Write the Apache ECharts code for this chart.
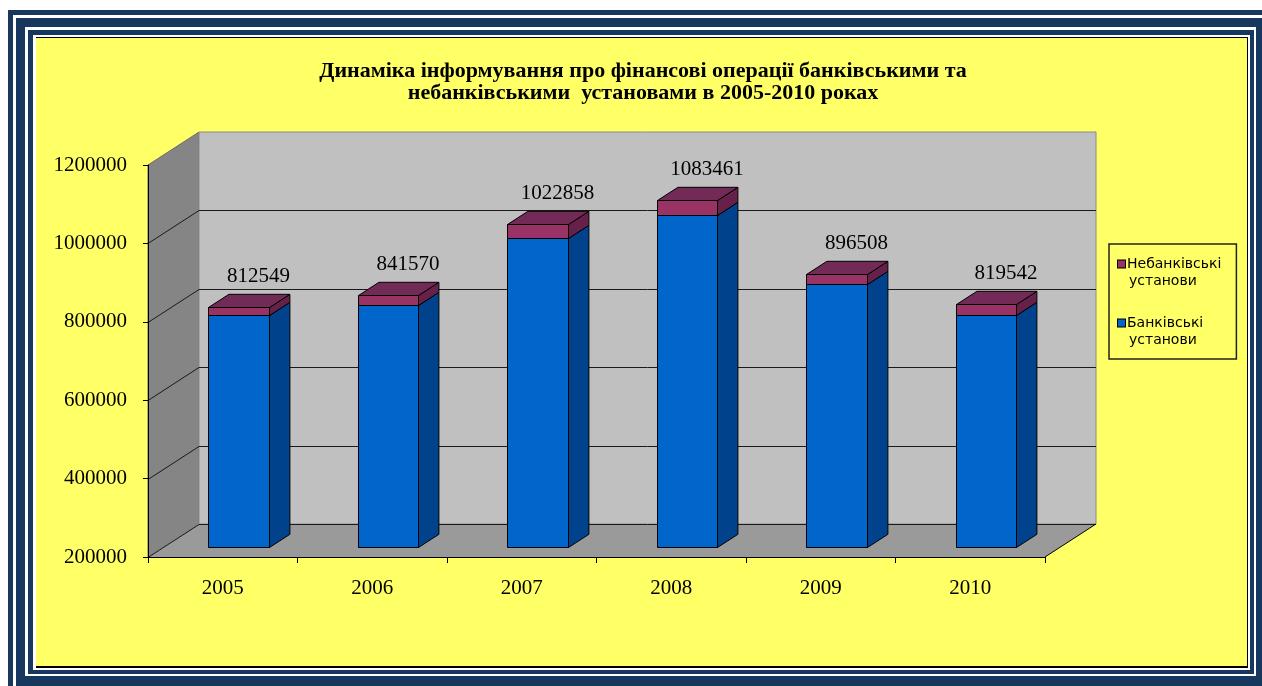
<!DOCTYPE html>
<html>
<head>
<meta charset="utf-8">
<script src="https://cdn.jsdelivr.net/npm/echarts@6/dist/echarts.min.js"></script>
<style>
  html, body { margin:0; padding:0; width:1262px; height:686px; overflow:hidden; background:#fff; }
  .f { position:absolute; box-sizing:border-box; }
  #chart { position:absolute; left:0; top:0; width:1262px; height:686px; }
</style>
</head>
<body>
<div class="f" style="left:8px; top:10px; width:1270px; height:690px; background:#17375E;"></div>
<div class="f" style="left:13px; top:15px; width:1260px; height:680px; background:#fff;"></div>
<div class="f" style="left:16px; top:18px; width:1252px; height:676px; background:#17375E;"></div>
<div class="f" style="left:25px; top:27px; width:1231px; height:649px; background:#fff;"></div>
<div class="f" style="left:28px; top:30px; width:1226px; height:644px; background:#17375E;"></div>
<div class="f" style="left:33px; top:35px; width:1217px; height:635px; background:#fff;"></div>
<div class="f" style="left:36px; top:37px; width:1212px; height:631px; background:#FFFF66; border-top:1px solid #000; border-right:1px solid #000; border-bottom:2px solid #000;"></div>
<div id="chart"></div>
<script>
// ---- data ----
const years = ['2005', '2006', '2007', '2008', '2009', '2010'];
const bankValues = [790300, 816900, 987100, 1047000, 869500, 791500];
const nonBankValues = [22249, 24670, 35758, 36461, 27008, 28042];
const yTicks = [200000, 400000, 600000, 800000, 1000000, 1200000];
const BANK = 'Банківські установи';
const NONBANK = 'Небанківські установи';
const TITLE = 'Динаміка інформування про фінансові операції банківськими та\nнебанківськими  установами в 2005-2010 роках';

// ---- 3D look parameters ----
const DX = 51, DY = -33;          // depth of the floor / walls
const FRONT = 0.31, BAR_D = 0.40; // bar front offset and bar depth (fractions of depth)
const BAR_W = 0.405;              // bar width as fraction of category band
const Y_MIN = yTicks[0], Y_MAX = yTicks[yTicks.length - 1];

const bankColors = { front: '#0066CC', side: '#00428C', top: '#00509F' };
const nonColors = { front: '#993366', side: '#66214A', top: '#722A56' };

function makeBox(isTop, col) {
  return function (params, api) {
    const i = api.value(0), lo = api.value(1), hi = api.value(2);
    const band = api.size([1, 0])[0];
    const c0 = api.coord([i, lo]), c1 = api.coord([i, hi]);
    const w = band * BAR_W;
    const ox = DX * FRONT, oy = DY * FRONT;
    const bx = DX * BAR_D, by = DY * BAR_D;
    const x0 = Math.round(c0[0] - w / 2 + ox) + 0.5, x1 = Math.round(c0[0] + w / 2 + ox) + 0.5;
    const yb = Math.round(c0[1] + oy) + 0.5, yt = Math.round(c1[1] + oy) + 0.5;
    const st = { stroke: '#000', lineWidth: 1, lineJoin: 'round' };
    const children = [
      { type: 'polygon', shape: { points: [[x0, yb], [x1, yb], [x1, yt], [x0, yt]] }, style: Object.assign({ fill: col.front }, st) },
      { type: 'polygon', shape: { points: [[x1, yb], [x1 + bx, yb + by], [x1 + bx, yt + by], [x1, yt]] }, style: Object.assign({ fill: col.side }, st) }
    ];
    if (isTop) {
      children.push({ type: 'polygon', shape: { points: [[x0, yt], [x1, yt], [x1 + bx, yt + by], [x0 + bx, yt + by]] }, style: Object.assign({ fill: col.top }, st) });
      const total = bankValues[params.dataIndex] + nonBankValues[params.dataIndex];
      children.push({ type: 'text', style: { text: String(total), x: (x0 + x1) / 2 + bx - 1, y: yt + by - 18, align: 'center', verticalAlign: 'middle', font: '21px "Liberation Serif"', fill: '#000' } });
    }
    return { type: 'group', children };
  };
}

function renderWalls(params, api) {
  const cs = params.coordSys;
  const gx = cs.x, gy = cs.y, gw = cs.width, gh = cs.height;
  const fy = gy + gh;
  const ch = [];
  ch.push({ type: 'polygon', shape: { points: [[gx, fy], [gx, gy], [gx + DX, gy + DY], [gx + DX, fy + DY]] }, style: { fill: '#858585', stroke: '#6a6a6a', lineWidth: 1 } });
  ch.push({ type: 'polygon', shape: { points: [[gx + DX, gy + DY], [gx + gw + DX, gy + DY], [gx + gw + DX, fy + DY], [gx + DX, fy + DY]] }, style: { fill: '#C0C0C0', stroke: '#8a8a8a', lineWidth: 1 } });
  ch.push({ type: 'polygon', shape: { points: [[gx, fy], [gx + gw, fy], [gx + gw + DX, fy + DY], [gx + DX, fy + DY]] }, style: { fill: '#9A9A9A' } });
  yTicks.forEach(function (v) {
    const y = Math.round(api.coord([0, v])[1]) + 0.5;
    if (v === Y_MAX) return;
    ch.push({ type: 'line', shape: { x1: gx, y1: y, x2: gx + DX, y2: y + DY }, style: { stroke: '#1a1a1a', lineWidth: 1 } });
    ch.push({ type: 'line', shape: { x1: gx + DX, y1: y + DY, x2: gx + gw + DX, y2: y + DY }, style: { stroke: '#1a1a1a', lineWidth: 1 } });
  });
  ch.push({ type: 'line', shape: { x1: gx + gw, y1: fy, x2: gx + gw + DX, y2: fy + DY }, style: { stroke: '#000', lineWidth: 1 } });
  return { type: 'group', children: ch };
}

const chart = echarts.init(document.getElementById('chart'), null, { renderer: 'canvas' });
chart.setOption({
  animation: false,
  backgroundColor: 'transparent',
  title: {
    text: TITLE,
    left: 643, top: 60, padding: 0, textAlign: 'center',
    textStyle: { fontFamily: 'Liberation Serif', fontWeight: 'bold', fontSize: 22, lineHeight: 22, color: '#000' }
  },
  legend: {
    data: [NONBANK, BANK],
    orient: 'vertical', left: 1109, top: 244,
    icon: 'none', itemWidth: 0, itemHeight: 10, itemGap: 28,
    padding: [13, 15, 12, 4],
    borderColor: '#222', borderWidth: 1.5, backgroundColor: 'transparent',
    selectedMode: false,
    formatter: function (name) {
      const parts = name.split(' ');
      const key = name === NONBANK ? 'sqN' : 'sqB';
      return '{' + key + '|}{t|' + parts[0] + '}\n{ind|}{t|' + parts[1] + '}';
    },
    textStyle: {
      rich: {
        sqN: { width: 7, height: 7, backgroundColor: '#993366', borderColor: '#000', borderWidth: 1 },
        sqB: { width: 7, height: 7, backgroundColor: '#0066CC', borderColor: '#000', borderWidth: 1 },
        ind: { width: 9 },
        t: { fontFamily: 'DejaVu Sans', fontSize: 14, lineHeight: 17, color: '#000', padding: [0, 0, 0, 2] }
      }
    }
  },
  grid: { left: 148, right: 217, top: 165, bottom: 129 },
  xAxis: {
    type: 'category', data: years, boundaryGap: true, z: 5,
    axisLine: { show: true, lineStyle: { color: '#000', width: 1 } },
    axisTick: { show: true, length: 6, lineStyle: { color: '#000' } },
    axisLabel: { fontFamily: 'Liberation Serif', fontSize: 21, color: '#000', margin: 21 },
    splitLine: { show: false }
  },
  yAxis: {
    type: 'value', min: Y_MIN, max: Y_MAX, interval: 200000, z: 5,
    axisLine: { show: true, lineStyle: { color: '#000', width: 1 } },
    axisTick: { show: true, length: 5, lineStyle: { color: '#000' } },
    axisLabel: { fontFamily: 'Liberation Serif', fontSize: 21, color: '#000', margin: 21, formatter: function (v) { return String(v); } },
    splitLine: { show: false }
  },
  series: [
    { type: 'custom', name: 'walls', silent: true, clip: false, z: 1, renderItem: renderWalls,
      encode: { x: 0, y: [1, 2] }, data: [[0, Y_MIN, Y_MAX]] },
    { type: 'custom', name: BANK, clip: false, z: 3, itemStyle: { color: '#0066CC' },
      renderItem: makeBox(false, bankColors), encode: { x: 0, y: [1, 2] },
      data: years.map(function (y, i) { return [i, Y_MIN, bankValues[i]]; }) },
    { type: 'custom', name: NONBANK, clip: false, z: 4, itemStyle: { color: '#993366' },
      renderItem: makeBox(true, nonColors), encode: { x: 0, y: [1, 2] },
      data: years.map(function (y, i) { return [i, bankValues[i], bankValues[i] + nonBankValues[i]]; }) }
  ]
});
</script>
</body>
</html>
